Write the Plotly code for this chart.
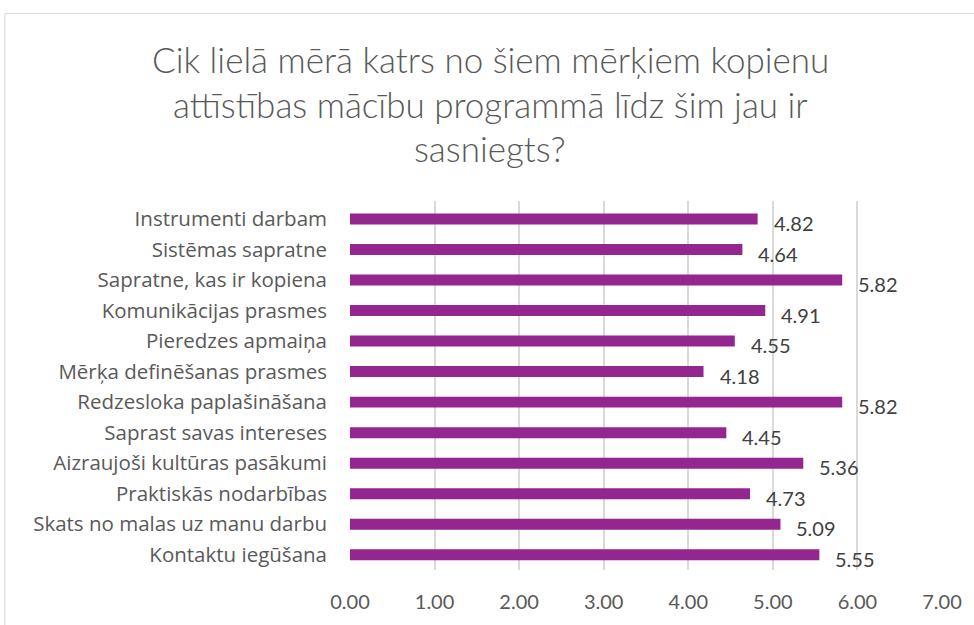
import plotly.graph_objects as go

categories = [
    "Instrumenti darbam",
    "Sistēmas sapratne",
    "Sapratne, kas ir kopiena",
    "Komunikācijas prasmes",
    "Pieredzes apmaiņa",
    "Mērķa definēšanas prasmes",
    "Redzesloka paplašināšana",
    "Saprast savas intereses",
    "Aizraujoši kultūras pasākumi",
    "Praktiskās nodarbības",
    "Skats no malas uz manu darbu",
    "Kontaktu iegūšana",
]
values = [4.82, 4.64, 5.82, 4.91, 4.55, 4.18, 5.82, 4.45, 5.36, 4.73, 5.09, 5.55]
tick_values = [0, 1, 2, 3, 4, 5, 6, 7]
tick_labels = ["0.00", "1.00", "2.00", "3.00", "4.00", "5.00", "6.00", "7.00"]

title_lines = [
    "Cik lielā mērā katrs no šiem mērķiem kopienu",
    "attīstības mācību programmā līdz šim jau ir",
    "sasniegts?",
]

FONT = "Lato"
BAR = "#93278F"

# plot area geometry (pixels) used to place the title lines in paper units
PLOT_TOP, PLOT_BOTTOM = 201, 573

fig = go.Figure(go.Bar(
    x=values,
    y=categories,
    orientation="h",
    width=0.36,
    marker=dict(color=BAR, line=dict(width=0)),
    hoverinfo="x+y",
))

# value labels just past the bar ends
for c, v in zip(categories, values):
    fig.add_annotation(
        x=v, y=c, text=f"{v:.2f}", showarrow=False,
        xanchor="left", yanchor="middle", xshift=14, yshift=-4,
        font=dict(family=FONT, size=20, color="#404040"),
    )

# three-line centred title
for i, line in enumerate(title_lines):
    ypix = 58 + 45 * i
    fig.add_annotation(
        xref="paper", yref="paper", x=(490 - 350) / 592,
        y=(PLOT_BOTTOM - ypix) / (PLOT_BOTTOM - PLOT_TOP),
        text=line, showarrow=False, xanchor="center", yanchor="middle",
        font=dict(family=FONT, size=35, color="#595959", weight=300),
    )

# outer chart frame
fig.add_shape(
    type="rect", xref="paper", yref="paper",
    x0=-0.583, x1=1.2, y0=-0.3, y1=1.508,
    line=dict(color="#D9D9D9", width=1), fillcolor="rgba(0,0,0,0)",
    layer="below",
)

fig.update_layout(
    width=974, height=625,
    paper_bgcolor="white", plot_bgcolor="white",
    margin=dict(l=350, r=32, t=PLOT_TOP, b=625 - PLOT_BOTTOM),
    showlegend=False,
    xaxis=dict(
        range=[0, 7], tickvals=tick_values, ticktext=tick_labels,
        showgrid=True, gridcolor="#D9D9D9", gridwidth=1.5,
        zeroline=False, showline=False, ticks="",
        tickfont=dict(family=FONT, size=20, color="#595959"),
        ticklabelstandoff=18,
    ),
    yaxis=dict(
        autorange="reversed", showgrid=False, showline=False, ticks="",
        tickfont=dict(family="Open Sans", size=20.5, color="#595959"),
        ticklabelstandoff=22,
    ),
)

fig.write_html("out.html")
